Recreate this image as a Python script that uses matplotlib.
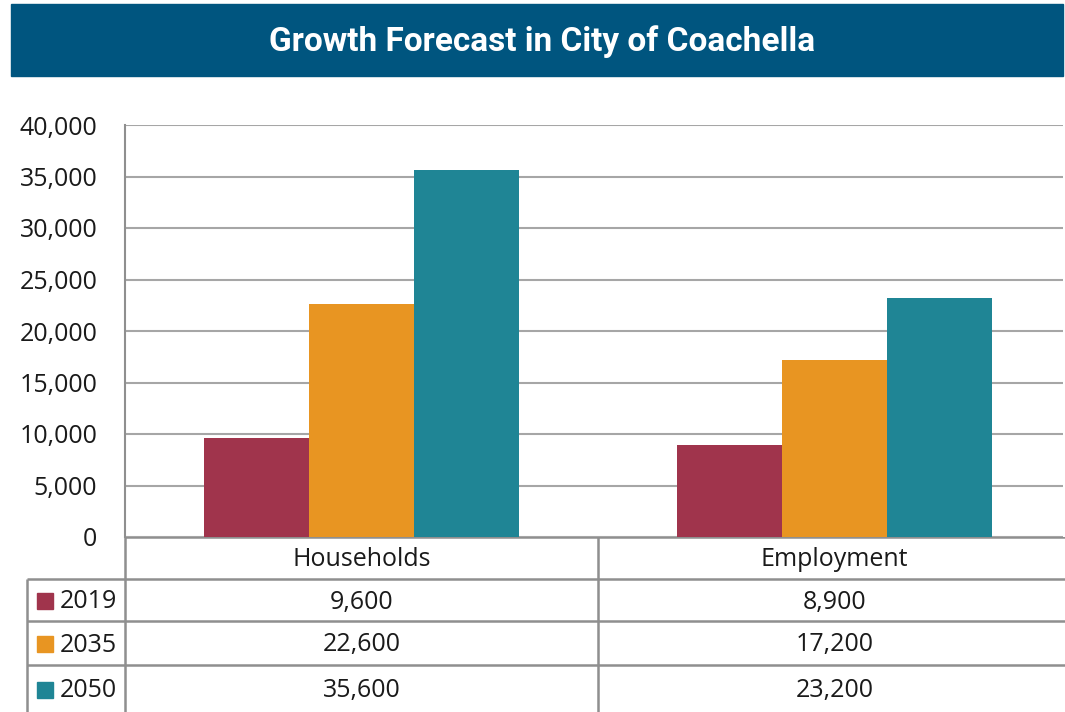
import matplotlib

matplotlib.use("Agg")
import matplotlib.pyplot as plt
import numpy as np
from matplotlib.patches import Rectangle
from matplotlib.ticker import FuncFormatter

TITLE = "Growth Forecast in City of Coachella"
CATEGORIES = ["Households", "Employment"]
YEARS = ["2019", "2035", "2050"]
V2019 = [9600, 8900]
V2035 = [22600, 17200]
V2050 = [35600, 23200]
COLORS = ["#A0344C", "#E89522", "#1F8595"]
BANNER = "#00557F"
GRID = "#A6A6A6"
TLINE = "#8F8F8F"
TXT = "#1a1a1a"

W, H = 1065, 712
plt.rcParams["font.family"] = ["Open Sans", "DejaVu Sans"]

fig = plt.figure(figsize=(W / 100, H / 100), dpi=100)


def fx(px):
    return px / W


def fy(py):
    return 1 - py / H


# title banner
fig.patches.append(Rectangle((fx(11), fy(76)), fx(1063) - fx(11), fy(4) - fy(76),
                             transform=fig.transFigure, color=BANNER, zorder=0))
fig.text(fx(542), fy(42), TITLE, color="white", fontsize=24, fontweight="bold",
         family=["Roboto", "DejaVu Sans"], ha="center", va="center")

# bar chart; category spacing is a bit wider than the plot area (473 px per group)
ax = fig.add_axes([fx(125), fy(537), fx(1063) - fx(125), fy(125) - fy(537)])
series = [V2019, V2035, V2050]
x = np.arange(len(CATEGORIES))
bw = 0.222
for i, (vals, col) in enumerate(zip(series, COLORS)):
    ax.bar(x + (i - 1) * bw, vals, width=bw, color=col, zorder=3, label=YEARS[i])
unit = 473
ax.set_xlim(-0.5, -0.5 + (1063 - 125) / unit)
ax.set_ylim(0, 40000)
ax.set_yticks(np.arange(0, 40001, 5000))
ax.yaxis.set_major_formatter(FuncFormatter(lambda v, _: f"{v:,.0f}"))
ax.tick_params(axis="y", length=0, labelsize=18, pad=20, colors=TXT)
ax.set_xticks([])
ax.grid(axis="y", color=GRID, linewidth=1.5, zorder=0)
for s in ["top", "right", "bottom"]:
    ax.spines[s].set_visible(False)
ax.spines["left"].set_color(TLINE)
ax.spines["left"].set_linewidth(1.5)

# data table below
tx = fig.add_axes([0, 0, 1, fy(537)])
tx.set_xlim(0, W)
tx.set_ylim(H, 537)
tx.axis("off")
rows = [537, 579, 621, 665, H]
centers = [125 + 0.5 * unit, 125 + 1.5 * unit]
lk = dict(color=TLINE, linewidth=1.8, solid_capstyle="butt")
tx.plot([125, W], [537, 537], **lk)
for r in rows[1:-1]:
    tx.plot([27, W], [r, r], **lk)
tx.plot([27, 27], [579, H], **lk)
tx.plot([125, 125], [537, H], **lk)
tx.plot([598, 598], [537, H], **lk)

for j, cat in enumerate(CATEGORIES):
    cx = centers[j]
    tx.text(cx, (rows[0] + rows[1]) / 2 + 2, cat, ha="center", va="center", fontsize=18, color=TXT)
    for i, vals in enumerate(series):
        cy = (rows[i + 1] + rows[i + 2]) / 2 + 2
        tx.text(cx, cy, f"{vals[j]:,}", ha="center", va="center", fontsize=18, color=TXT)

for i, (yr, col) in enumerate(zip(YEARS, COLORS)):
    cy = (rows[i + 1] + rows[i + 2]) / 2
    tx.add_patch(Rectangle((37, cy - 7), 16, 16, color=col))
    tx.text(60, cy + 2, yr, ha="left", va="center", fontsize=18, color=TXT)

fig.savefig("out.png", dpi=100)
